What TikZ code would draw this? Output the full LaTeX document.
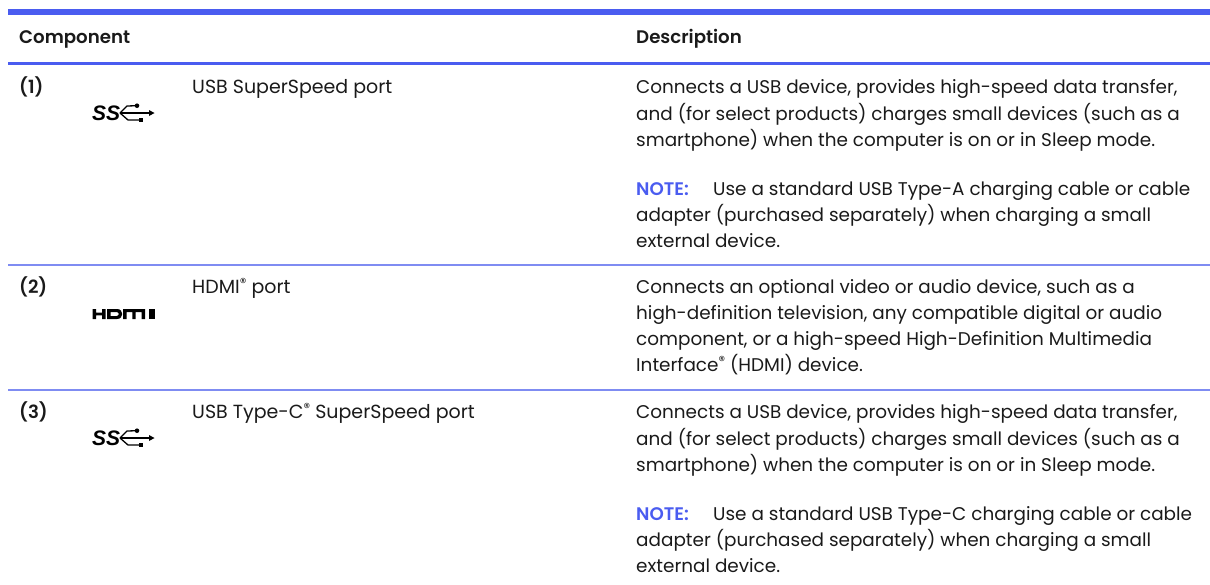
\documentclass[tikz,border=0pt]{standalone}
\usepackage{fontspec}
\setmainfont{Poppins}
\newfontfamily\medfont{Poppins SemiBold}
\newfontfamily\markfont{Liberation Sans}
\definecolor{hpblue}{HTML}{4A5CF0}
\definecolor{hplight}{HTML}{7F8CF2}
\definecolor{ink}{HTML}{1A1A1A}
\newcommand{\regmark}{\raisebox{0.3em}{\fontsize{13}{13}\selectfont ®}}
\tikzset{
  txt/.style={anchor=base west,inner sep=0pt,font=\fontsize{18.4}{18.4}\selectfont,text=ink},
  comptxt/.style={anchor=base west,inner sep=0pt,font=\fontsize{19}{19}\selectfont,text=ink},
  boldtxt/.style={txt,font=\fontsize{18.2}{18.2}\medfont},
  note/.style={boldtxt,text=hpblue},
  heavyrule/.style={draw=hpblue,line width=6pt},
  midrule/.style={draw=hpblue,line width=3pt},
  rowrule/.style={draw=hplight,line width=1.5pt},
  ssmark/.style={anchor=base west,inner sep=0pt,font=\fontsize{21}{21}\markfont\bfseries\itshape},
  usbline/.style={draw=black,line width=1.3pt},
  pics/usbicon/.style={code={
    \node[ssmark] at (92,120.5) {SS};
    \draw[usbline] (120,113) -- (127,106) -- (137,105.7);
    \draw[usbline] (120,113) -- (128,120) -- (141,120);
    \draw[usbline] (120,113) -- (150,113);
    \fill (137,105.7) circle (2.3);
    \fill (139,118) rectangle (143,122);
    \fill (149,110) -- (154.5,113) -- (149,116) -- cycle;
  }},
}
\begin{document}
\begin{tikzpicture}[x=1pt,y=-1pt]
\useasboundingbox (0,0) rectangle (1210,584);
\draw[heavyrule] (8,12) -- (1210,12);
\draw[midrule] (8,63.5) -- (1210,63.5);
\draw[rowrule] (8,265) -- (1210,265);
\draw[rowrule] (8,390) -- (1210,390);
\node[boldtxt] (h1) at (19,43.5) {Component};
\node[boldtxt] (h2) at (636,43.5) {Description};
\node[boldtxt] (n1) at (19,93.5) {(1)};
\node[boldtxt] (n2) at (19,293.5) {(2)};
\node[boldtxt] (n3) at (19,418.5) {(3)};
\node[comptxt] (c1) at (192,93.5) {USB SuperSpeed port};
\node[comptxt] (c2) at (192,293.5) {HDMI\regmark{} port};
\node[comptxt] (c3) at (192,418.5) {USB Type-C\regmark{} SuperSpeed port};
\foreach \y/\t in {93.5/{Connects a USB device, provides high-speed data transfer,},120/{and (for select products) charges small devices (such as a},146/{smartphone) when the computer is on or in Sleep mode.},221/{adapter (purchased separately) when charging a small},247/{external device.},
293.5/{Connects an optional video or audio device, such as a},319.5/{high-definition television, any compatible digital or audio},345.5/{component, or a high-speed High-Definition Multimedia},371/{Interface\regmark{} (HDMI) device.},
418.5/{Connects a USB device, provides high-speed data transfer,},445/{and (for select products) charges small devices (such as a},471/{smartphone) when the computer is on or in Sleep mode.},546/{adapter (purchased separately) when charging a small},572/{external device.}}
  \node[txt] at (636,\y) {\t};
\node[note] (nt1) at (636,195) {NOTE:};
\node[note] (nt2) at (636,520) {NOTE:};
\node[txt] (u1) at (713,195) {Use a standard USB Type-A charging cable or cable};
\node[txt] (u2) at (713,520) {Use a standard USB Type-C charging cable or cable};
\pic at (0,0) {usbicon};
\pic at (0,325) {usbicon};
% HDMI mark
\fill (92.5,309) rectangle (96,319) (102,309) rectangle (105.5,319) (96,312.7) rectangle (102,315.3);
\fill[even odd rule] (107,309) -- (117,309) .. controls (124,309) and (124,319) .. (117,319) -- (107,319) -- cycle
      (110.5,312) -- (116.5,312) .. controls (119.5,312) and (119.5,316) .. (116.5,316) -- (110.5,316) -- cycle;
\fill (123,309) -- (145,309) -- (145,319) -- (141.5,319) -- (141.5,312) -- (135.7,312) -- (135.7,319) -- (132.3,319) -- (132.3,312) -- (126.5,312) -- (126.5,319) -- (123,319) -- cycle;
\fill (149,309) rectangle (155,319);
\end{tikzpicture}
\end{document}
